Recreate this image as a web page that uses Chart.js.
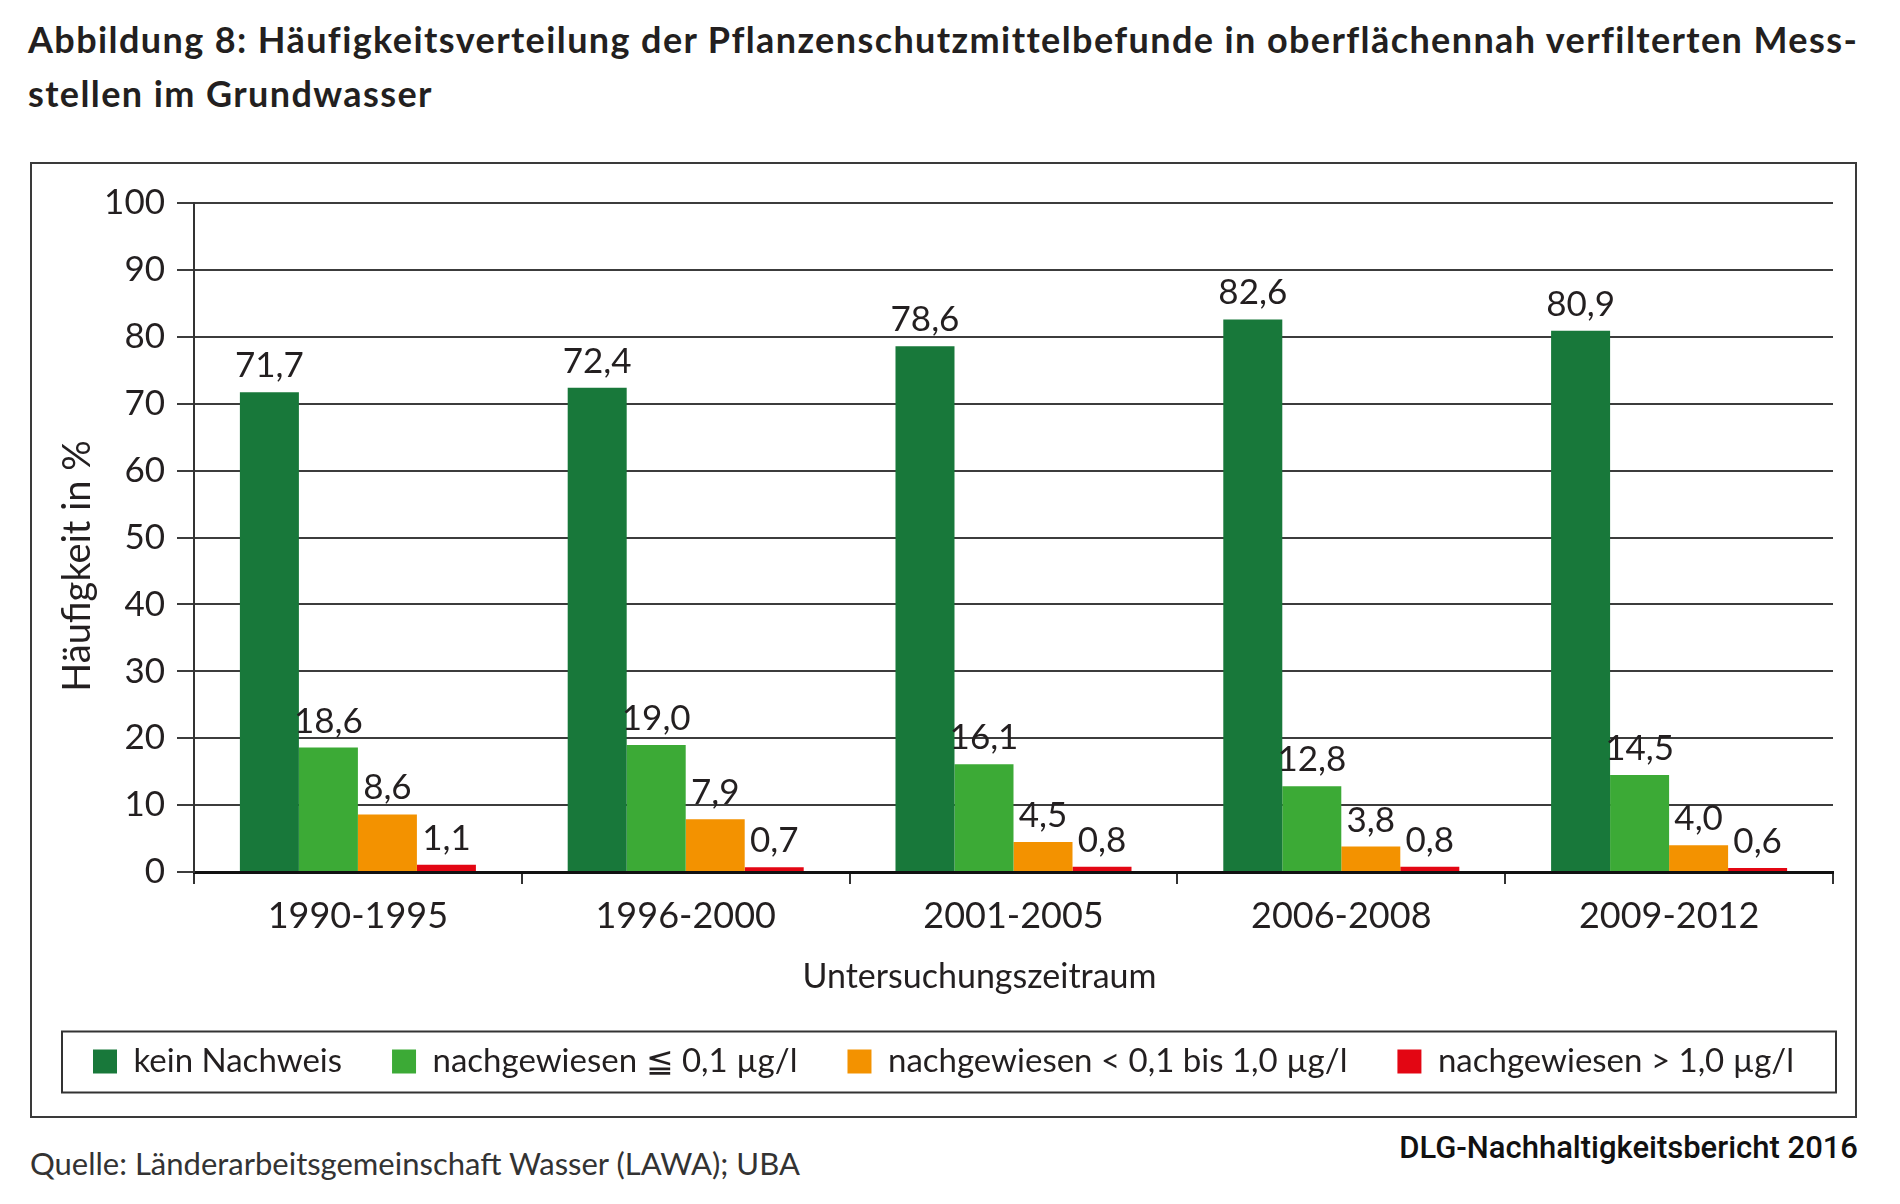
<!DOCTYPE html>
<html lang="de">

<head>
    <meta charset="UTF-8">
    <title>Häufigkeitsverteilung der Pflanzenschutzmittelbefunde</title>
    <style>
        body {
            margin: 0;
            background: #fff;
            font-family: Lato, sans-serif;
            color: #231f20;
            width: 1900px;
            height: 1204px;
            position: relative;
            overflow: hidden;
        }

        .titel {
            position: absolute;
            left: 28px;
            top: 12px;
            font-size: 36px;
            line-height: 54px;
            letter-spacing: 1.4px;
            font-weight: 700;
            white-space: nowrap;
        }

        .rahmen {
            position: absolute;
            left: 30px;
            top: 162px;
            width: 1827px;
            height: 956px;
            border: 2px solid #3a3a3a;
            box-sizing: border-box;
        }

        .rahmen canvas {
            display: block;
        }

        .quelle {
            position: absolute;
            left: 30px;
            top: 1148px;
            font-size: 31px;
            line-height: 1;
            color: #333;
            white-space: nowrap;
        }

        .dlg {
            position: absolute;
            right: 42px;
            top: 1132px;
            font-family: Roboto, sans-serif;
            font-weight: 500;
            font-size: 31px;
            line-height: 1;
            color: #111;
            white-space: nowrap;
        }
    </style>
</head>

<body>
    <div class="titel">Abbildung 8: Häufigkeitsverteilung der Pflanzenschutzmittelbefunde in oberflächennah verfilterten Mess-<br>stellen im Grundwasser</div>
    <div class="rahmen">
        <canvas id="befundeChart" width="1823" height="952"></canvas>
    </div>
    <div class="quelle">Quelle: Länderarbeitsgemeinschaft Wasser (LAWA); UBA</div>
    <div class="dlg">DLG-Nachhaltigkeitsbericht 2016</div>

    <script src="https://cdn.jsdelivr.net/npm/chart.js"></script>
    <script>
        // Daten (Häufigkeit in %)
        const zeitraeume = ['1990-1995', '1996-2000', '2001-2005', '2006-2008', '2009-2012'];
        const keinNachweis = [71.7, 72.4, 78.6, 82.6, 80.9];
        const bis01 = [18.6, 19.0, 16.1, 12.8, 14.5];
        const bis10 = [8.6, 7.9, 4.5, 3.8, 4.0];
        const ueber10 = [1.1, 0.7, 0.8, 0.8, 0.6];
        const serienNamen = ['kein Nachweis', 'nachgewiesen ≦ 0,1 µg/l', 'nachgewiesen < 0,1 bis 1,0 µg/l', 'nachgewiesen > 1,0 µg/l'];
        const farben = ['#18783a', '#3caa36', '#f39200', '#e30613'];

        const textFarbe = '#231f20';
        const komma = v => v.toFixed(1).replace('.', ',');

        // Werte über den Balken
        const wertBeschriftung = {
            id: 'wertBeschriftung',
            afterDatasetsDraw(chart) {
                const ctx = chart.ctx;
                ctx.save();
                ctx.font = '35px Lato';
                ctx.fillStyle = textFarbe;
                ctx.textAlign = 'center';
                ctx.textBaseline = 'alphabetic';
                chart.data.datasets.forEach((ds, i) => {
                    chart.getDatasetMeta(i).data.forEach((bar, j) => {
                        ctx.fillText(komma(ds.data[j]), bar.x, bar.y - 15);
                    });
                });
                ctx.restore();
            }
        };

        // Rahmen um die Legende (etwas eingerückt)
        const legendenRahmen = {
            id: 'legendenRahmen',
            afterDraw(chart) {
                const lg = chart.legend;
                const hb = lg.legendHitBoxes[0];
                const mitte = hb.top + hb.height / 2;
                const ctx = chart.ctx;
                ctx.save();
                ctx.strokeStyle = '#333';
                ctx.lineWidth = 2;
                ctx.strokeRect(lg.left + 30, mitte - 30, lg.right - lg.left - 49, 61);
                ctx.restore();
            }
        };

        Chart.defaults.font.family = 'Lato';
        Chart.defaults.color = textFarbe;

        const reihen = [keinNachweis, bis01, bis10, ueber10];

        new Chart(document.getElementById('befundeChart'), {
            type: 'bar',
            data: {
                labels: zeitraeume,
                datasets: reihen.map((werte, i) => ({
                    label: serienNamen[i],
                    data: werte,
                    backgroundColor: farben[i],
                    borderWidth: 0,
                    barPercentage: 1,
                    categoryPercentage: 0.72
                }))
            },
            options: {
                responsive: false,
                animation: false,
                devicePixelRatio: 1,
                layout: {
                    padding: { top: 39, left: 0, right: 0, bottom: 28 }
                },
                plugins: {
                    tooltip: { enabled: false },
                    legend: {
                        position: 'bottom',
                        labels: {
                            font: { size: 33 },
                            color: textFarbe,
                            boxWidth: 24,
                            boxHeight: 24,
                            padding: 50
                        }
                    }
                },
                scales: {
                    x: {
                        grid: {
                            drawOnChartArea: false,
                            drawTicks: true,
                            tickLength: 12,
                            color: '#333',
                            lineWidth: 2
                        },
                        border: { color: '#111', width: 3 },
                        ticks: { font: { size: 36 }, padding: 11, color: textFarbe },
                        title: {
                            display: true,
                            // Leerzeichen am Ende verschieben den Titel etwas nach links
                            text: 'Untersuchungszeitraum\u2002\u2002\u2002\u2002',
                            font: { size: 34 },
                            color: textFarbe,
                            padding: { top: 7, bottom: -2 }
                        }
                    },
                    y: {
                        min: 0,
                        max: 100,
                        ticks: { stepSize: 10, font: { size: 35 }, padding: 12, color: textFarbe },
                        grid: {
                            color: '#3c3c3c',
                            lineWidth: 2,
                            tickLength: 17
                        },
                        border: { color: '#333', width: 2 },
                        title: {
                            display: true,
                            text: 'Häufigkeit in %\u2002\u2002\u2002',
                            font: { size: 38, lineHeight: 1 },
                            color: textFarbe,
                            padding: { top: 27, bottom: 0 }
                        },
                        afterFit: s => { s.width = 162; }
                    },
                    // leere Achse rechts als Abstand zum Rahmen
                    rechts: {
                        position: 'right',
                        grid: { display: false },
                        border: { display: false },
                        ticks: { display: false },
                        afterFit: s => { s.width = 22; }
                    }
                }
            },
            plugins: [wertBeschriftung, legendenRahmen]
        });
    </script>
</body>

</html>
